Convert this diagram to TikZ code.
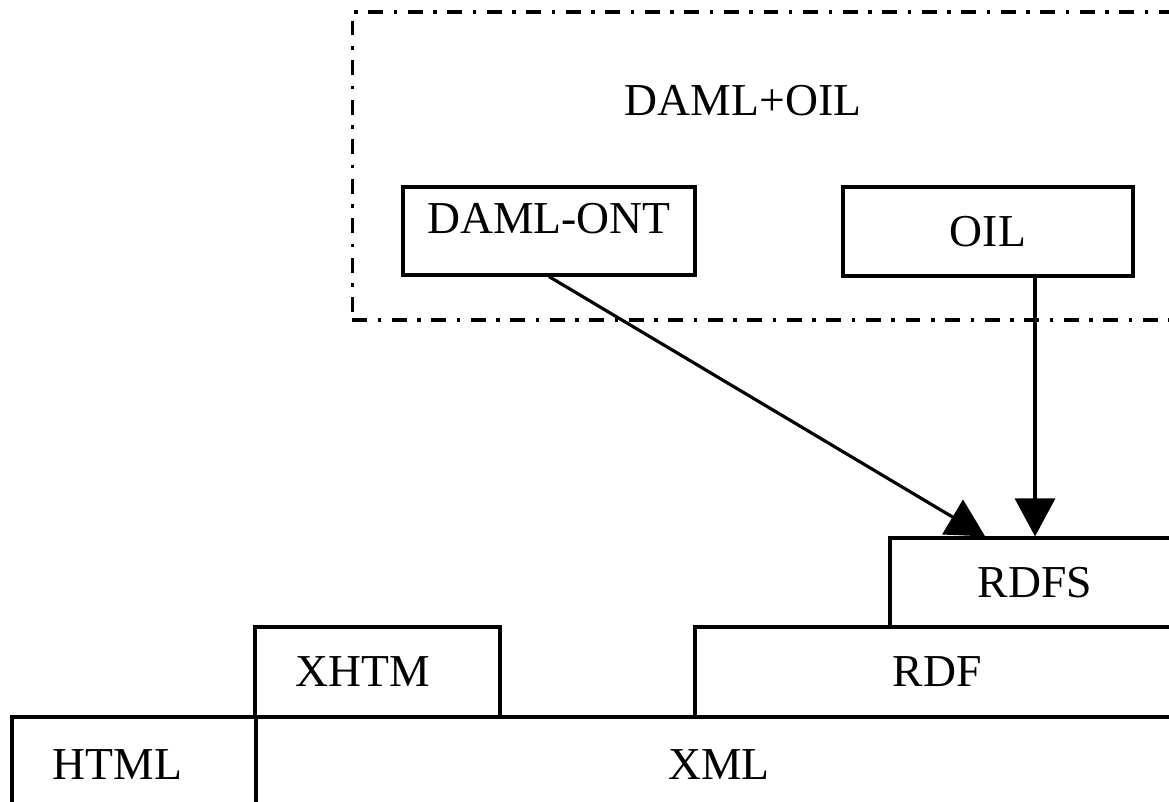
\documentclass[tikz,border=0pt]{standalone}
\usepackage{fontspec}
\setmainfont{Liberation Serif}
\usetikzlibrary{arrows.meta,positioning,calc}
\tikzset{
  layer/.style={draw,line width=1.8pt,rectangle,inner sep=0pt,
                font=\fontsize{26}{30}\selectfont},
  leftlayer/.style={layer,align=left,inner xsep=0.81cm,inner ysep=0pt},
  grp/.style={draw,line width=1.8pt,dash pattern=on 8.5pt off 6pt on 2pt off 6pt},
  ttl/.style={font=\fontsize{26}{30}\selectfont,inner sep=0pt},
  ar/.style={-{Triangle[length=0.76cm,width=0.8cm]},line width=1.8pt},
}
\begin{document}
\begin{tikzpicture}[x=0.02cm,y=-0.02cm]
    \clip (0,0) rectangle (1169,801);
    \node[grp,minimum width=17cm,minimum height=6.16cm] (grp) at (777,166) {};
    \node[ttl] (damloil) at (743,101) {DAML+OIL};
    \node[layer,minimum width=5.84cm,text height=0.92cm,text depth=0.84cm] (dont) at (549,231) {DAML-ONT};
    \node[layer,minimum width=5.8cm,minimum height=1.78cm] (oil) at (988,231.5) {OIL};
    \node[layer,minimum width=5.8cm,minimum height=1.78cm] (rdfs) at (1035,582.5) {RDFS};
    \node[layer,minimum width=9.68cm,minimum height=1.8cm] (rdf) at (937,672) {RDF};
    \node[leftlayer,text width=3.28cm,minimum height=1.8cm] (xhtm) at (377.5,672) {XHTM};
    \node[leftlayer,text width=3.26cm,minimum height=1.92cm] (html) at (134,765) {HTML};
    \node[layer,minimum width=18.52cm,minimum height=1.92cm] (xml) at (719,765) {XML};
    \draw[ar] (dont.south) -- ($(rdfs.north west)!0.33!(rdfs.north east)$);
    \draw[ar] (oil.south -| rdfs.north) -- (rdfs.north);
  \end{tikzpicture}
\end{document}
